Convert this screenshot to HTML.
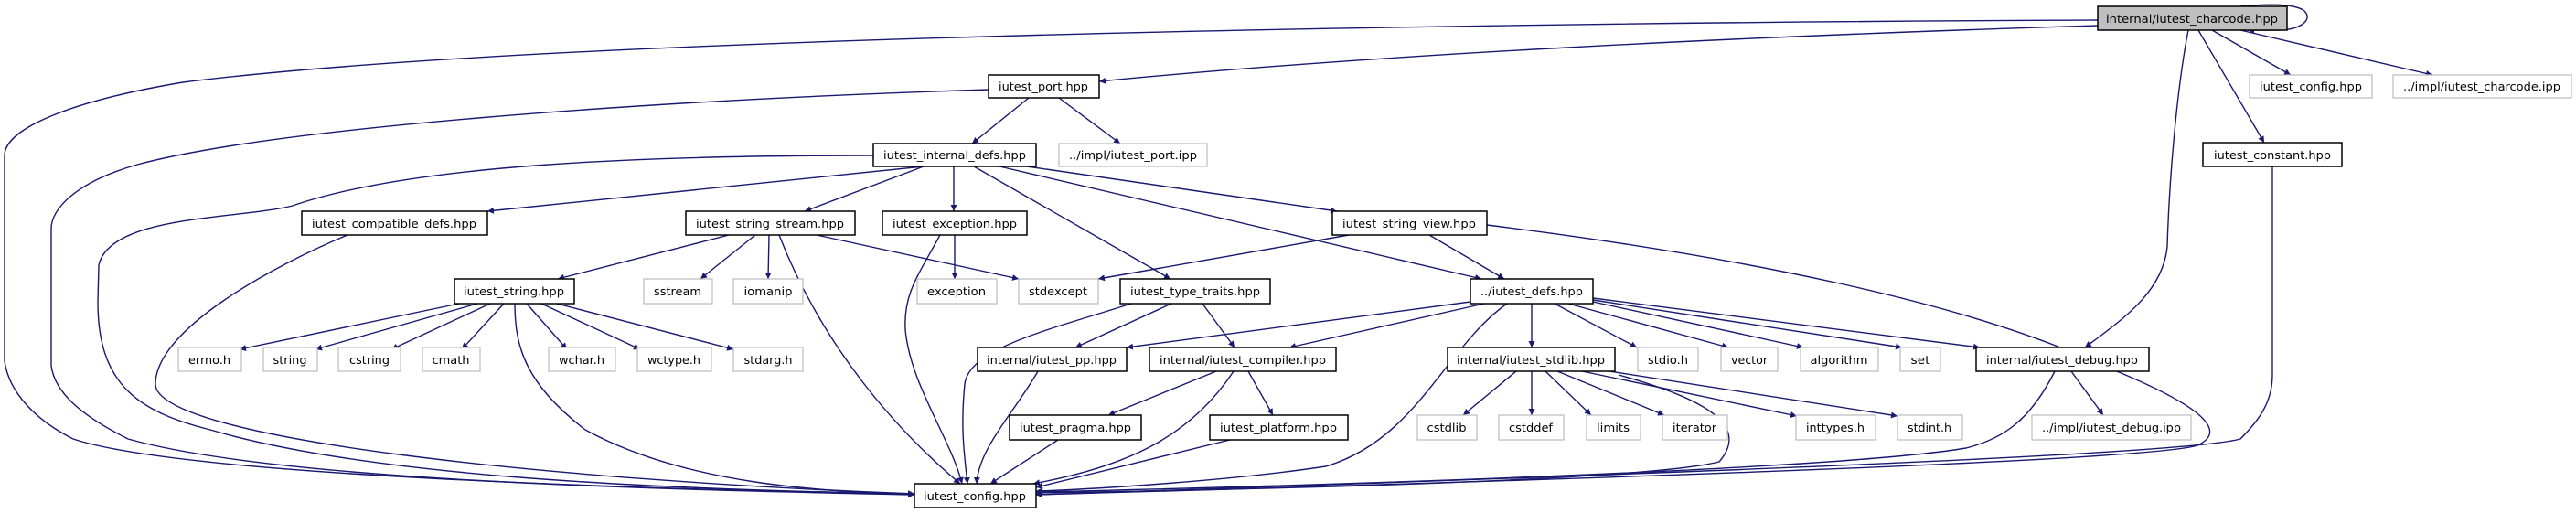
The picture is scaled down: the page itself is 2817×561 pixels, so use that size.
<!DOCTYPE html>
<html><head><meta charset="utf-8"><style>
html,body{margin:0;padding:0;background:#fff;}
svg{display:block;}
text{font-family:"DejaVu Sans","Liberation Sans",sans-serif;font-size:12px;fill:#000;}
.e{fill:none;stroke:#191970;stroke-width:1.4;}
.n{fill:#fff;stroke:#000;stroke-width:1.5;}
.g{fill:#fff;stroke:#c0c0c0;stroke-width:1.3;}
</style></head><body>
<svg width="2817" height="561" viewBox="0 0 2817 561" xmlns="http://www.w3.org/2000/svg">
<defs><marker id="a" viewBox="0 0 10 10" refX="10" refY="5" markerWidth="7" markerHeight="7" orient="auto" markerUnits="userSpaceOnUse"><path d="M0,0 L10,5 L0,10 z" fill="#191970"/></marker></defs>
<g marker-end="url(#a)">
<path class="e" d="M2419,33 L2505,82"/>
<path class="e" d="M2450,33 L2660,82"/>
<path class="e" d="M2404,33 L2476,156"/>
<path class="e" d="M2393,33 C2380,100 2372,200 2370,270 C2365,320 2320,350 2280,380"/>
<path class="e" d="M2294,28 C1900,40 1500,60 1202,89"/>
<path class="e" d="M2294,22 C1600,25 600,40 200,90 C80,110 5,140 5,170 L5,395 C10,430 40,460 80,480 C200,520 700,535 1000,540"/>
<path class="e" d="M2450,7 C2480,4 2510,4 2520,12 C2530,22 2515,33 2490,33 L2458,33"/>
<path class="e" d="M1125,107 L1063,157"/>
<path class="e" d="M1158,107 L1225,157"/>
<path class="e" d="M1081,98 C700,110 300,140 150,180 C80,200 56,230 56,250 L56,400 C60,430 90,455 140,480 C300,525 700,535 1000,541"/>
<path class="e" d="M2485,182 L2485,410 C2485,440 2470,460 2450,480 C2380,500 1600,525 1133,541"/>
<path class="e" d="M1010,182 L533,231"/>
<path class="e" d="M955,170 C700,170 450,180 320,225 C260,240 120,235 108,290 L107,330 C107,420 150,450 230,470 C400,520 700,535 1000,540"/>
<path class="e" d="M1010,182 L880,231"/>
<path class="e" d="M1043,182 L1043,231"/>
<path class="e" d="M1065,182 L1280,305"/>
<path class="e" d="M1093,182 L1620,305"/>
<path class="e" d="M1123,182 L1462,231"/>
<path class="e" d="M380,257 C300,290 170,360 170,420 C170,480 600,525 1000,540"/>
<path class="e" d="M797,257 L610,305"/>
<path class="e" d="M826,257 L766,305"/>
<path class="e" d="M841,257 L840,305"/>
<path class="e" d="M893,257 L1114,305"/>
<path class="e" d="M852,257 C900,380 980,470 1050,529"/>
<path class="e" d="M1044,257 L1044,305"/>
<path class="e" d="M1028,257 C1005,300 988,320 990,360 C995,420 1040,480 1052,529"/>
<path class="e" d="M1475,257 L1201,305"/>
<path class="e" d="M1563,257 L1645,305"/>
<path class="e" d="M1626,246 C1900,280 2150,330 2300,400 C2400,440 2440,470 2403,487 C2350,505 1600,528 1133,541"/>
<path class="e" d="M502,332 L262,382"/>
<path class="e" d="M522,332 L345,382"/>
<path class="e" d="M536,332 L428,382"/>
<path class="e" d="M551,332 L505,382"/>
<path class="e" d="M576,332 L620,382"/>
<path class="e" d="M592,332 L700,382"/>
<path class="e" d="M609,332 L802,382"/>
<path class="e" d="M563,332 C563,380 575,420 640,470 C750,530 900,538 1000,540"/>
<path class="e" d="M1281,332 L1176,380"/>
<path class="e" d="M1315,332 L1350,380"/>
<path class="e" d="M1237,332 C1150,360 1060,380 1055,420 C1050,470 1055,500 1058,529"/>
<path class="e" d="M1608,330 L1232,380"/>
<path class="e" d="M1623,332 L1410,380"/>
<path class="e" d="M1675,332 L1675,380"/>
<path class="e" d="M1700,332 L1790,380"/>
<path class="e" d="M1715,332 L1890,380"/>
<path class="e" d="M1742,330 L1972,380"/>
<path class="e" d="M1742,328 L2080,380"/>
<path class="e" d="M1742,326 L2165,380"/>
<path class="e" d="M1648,332 C1580,380 1550,480 1450,510 C1350,525 1200,535 1133,537"/>
<path class="e" d="M1135,406 C1110,450 1070,490 1068,529"/>
<path class="e" d="M1330,406 L1212,454"/>
<path class="e" d="M1349,406 C1300,480 1230,510 1130,529"/>
<path class="e" d="M1365,406 L1392,454"/>
<path class="e" d="M1157,481 L1083,529"/>
<path class="e" d="M1345,481 L1133,533"/>
<path class="e" d="M1658,406 L1600,454"/>
<path class="e" d="M1675,406 L1675,454"/>
<path class="e" d="M1690,406 L1740,454"/>
<path class="e" d="M1703,406 L1820,454"/>
<path class="e" d="M1730,406 L1965,455"/>
<path class="e" d="M1760,406 L2075,455"/>
<path class="e" d="M1770,410 C1880,440 1910,470 1880,505 C1800,525 1400,535 1133,539"/>
<path class="e" d="M2265,406 L2300,454"/>
<path class="e" d="M2247,406 C2220,460 2190,480 2150,490 C2000,515 1400,532 1133,538"/>
</g>
<g>
<rect x="2294" y="7" width="207" height="26" fill="#bfbfbf" stroke="#000" stroke-width="1.5"/>
<text x="2397" y="25" text-anchor="middle" textLength="188" lengthAdjust="spacingAndGlyphs">internal/iutest_charcode.hpp</text>
<rect class="g" x="2460" y="82" width="134" height="25"/><text x="2527" y="99" text-anchor="middle" textLength="112" lengthAdjust="spacingAndGlyphs">iutest_config.hpp</text>
<rect class="g" x="2617" y="82" width="195" height="25"/><text x="2714" y="99" text-anchor="middle" textLength="172" lengthAdjust="spacingAndGlyphs">../impl/iutest_charcode.ipp</text>
<rect class="n" x="2409" y="156" width="152" height="26"/><text x="2485" y="174" text-anchor="middle" textLength="128" lengthAdjust="spacingAndGlyphs">iutest_constant.hpp</text>
<rect class="n" x="1081" y="82" width="121" height="25"/><text x="1141" y="99" text-anchor="middle" textLength="98" lengthAdjust="spacingAndGlyphs">iutest_port.hpp</text>
<rect class="n" x="955" y="157" width="178" height="25"/><text x="1044" y="174" text-anchor="middle" textLength="156" lengthAdjust="spacingAndGlyphs">iutest_internal_defs.hpp</text>
<rect class="g" x="1158" y="157" width="162" height="25"/><text x="1239" y="174" text-anchor="middle" textLength="140" lengthAdjust="spacingAndGlyphs">../impl/iutest_port.ipp</text>
<rect class="n" x="330" y="231" width="203" height="26"/><text x="431" y="249" text-anchor="middle" textLength="180" lengthAdjust="spacingAndGlyphs">iutest_compatible_defs.hpp</text>
<rect class="n" x="750" y="231" width="185" height="26"/><text x="842" y="249" text-anchor="middle" textLength="162" lengthAdjust="spacingAndGlyphs">iutest_string_stream.hpp</text>
<rect class="n" x="965" y="231" width="158" height="26"/><text x="1044" y="249" text-anchor="middle" textLength="136" lengthAdjust="spacingAndGlyphs">iutest_exception.hpp</text>
<rect class="n" x="1457" y="231" width="169" height="26"/><text x="1541" y="249" text-anchor="middle" textLength="146" lengthAdjust="spacingAndGlyphs">iutest_string_view.hpp</text>
<rect class="n" x="497" y="305" width="131" height="27"/><text x="562" y="323" text-anchor="middle" textLength="110" lengthAdjust="spacingAndGlyphs">iutest_string.hpp</text>
<rect class="g" x="704" y="305" width="75" height="27"/><text x="741" y="323" text-anchor="middle" textLength="52" lengthAdjust="spacingAndGlyphs">sstream</text>
<rect class="g" x="802" y="305" width="76" height="27"/><text x="840" y="323" text-anchor="middle" textLength="53" lengthAdjust="spacingAndGlyphs">iomanip</text>
<rect class="g" x="1003" y="305" width="87" height="27"/><text x="1046" y="323" text-anchor="middle" textLength="64" lengthAdjust="spacingAndGlyphs">exception</text>
<rect class="g" x="1114" y="305" width="87" height="27"/><text x="1157" y="323" text-anchor="middle" textLength="64" lengthAdjust="spacingAndGlyphs">stdexcept</text>
<rect class="n" x="1225" y="305" width="164" height="27"/><text x="1307" y="323" text-anchor="middle" textLength="142" lengthAdjust="spacingAndGlyphs">iutest_type_traits.hpp</text>
<rect class="n" x="1608" y="305" width="134" height="27"/><text x="1675" y="323" text-anchor="middle" textLength="112" lengthAdjust="spacingAndGlyphs">../iutest_defs.hpp</text>
<rect class="g" x="195" y="380" width="69" height="26"/><text x="229" y="398" text-anchor="middle" textLength="46" lengthAdjust="spacingAndGlyphs">errno.h</text>
<rect class="g" x="288" y="380" width="59" height="26"/><text x="317" y="398" text-anchor="middle" textLength="37" lengthAdjust="spacingAndGlyphs">string</text>
<rect class="g" x="370" y="380" width="68" height="26"/><text x="404" y="398" text-anchor="middle" textLength="44" lengthAdjust="spacingAndGlyphs">cstring</text>
<rect class="g" x="462" y="380" width="63" height="26"/><text x="493" y="398" text-anchor="middle" textLength="41" lengthAdjust="spacingAndGlyphs">cmath</text>
<rect class="g" x="600" y="380" width="73" height="26"/><text x="636" y="398" text-anchor="middle" textLength="50" lengthAdjust="spacingAndGlyphs">wchar.h</text>
<rect class="g" x="697" y="380" width="81" height="26"/><text x="737" y="398" text-anchor="middle" textLength="58" lengthAdjust="spacingAndGlyphs">wctype.h</text>
<rect class="g" x="802" y="380" width="76" height="26"/><text x="840" y="398" text-anchor="middle" textLength="53" lengthAdjust="spacingAndGlyphs">stdarg.h</text>
<rect class="n" x="1069" y="380" width="163" height="26"/><text x="1150" y="398" text-anchor="middle" textLength="142" lengthAdjust="spacingAndGlyphs">internal/iutest_pp.hpp</text>
<rect class="n" x="1257" y="380" width="204" height="26"/><text x="1359" y="398" text-anchor="middle" textLength="182" lengthAdjust="spacingAndGlyphs">internal/iutest_compiler.hpp</text>
<rect class="n" x="1583" y="380" width="183" height="26"/><text x="1674" y="398" text-anchor="middle" textLength="162" lengthAdjust="spacingAndGlyphs">internal/iutest_stdlib.hpp</text>
<rect class="g" x="1791" y="380" width="66" height="26"/><text x="1824" y="398" text-anchor="middle" textLength="44" lengthAdjust="spacingAndGlyphs">stdio.h</text>
<rect class="g" x="1882" y="380" width="62" height="26"/><text x="1913" y="398" text-anchor="middle" textLength="40" lengthAdjust="spacingAndGlyphs">vector</text>
<rect class="g" x="1969" y="380" width="85" height="26"/><text x="2011" y="398" text-anchor="middle" textLength="63" lengthAdjust="spacingAndGlyphs">algorithm</text>
<rect class="g" x="2078" y="380" width="44" height="26"/><text x="2100" y="398" text-anchor="middle" textLength="21" lengthAdjust="spacingAndGlyphs">set</text>
<rect class="n" x="2161" y="380" width="189" height="26"/><text x="2255" y="398" text-anchor="middle" textLength="166" lengthAdjust="spacingAndGlyphs">internal/iutest_debug.hpp</text>
<rect class="n" x="1104" y="454" width="144" height="27"/><text x="1176" y="472" text-anchor="middle" textLength="122" lengthAdjust="spacingAndGlyphs">iutest_pragma.hpp</text>
<rect class="n" x="1323" y="454" width="151" height="27"/><text x="1398" y="472" text-anchor="middle" textLength="128" lengthAdjust="spacingAndGlyphs">iutest_platform.hpp</text>
<rect class="g" x="1550" y="454" width="65" height="27"/><text x="1582" y="472" text-anchor="middle" textLength="43" lengthAdjust="spacingAndGlyphs">cstdlib</text>
<rect class="g" x="1639" y="454" width="71" height="27"/><text x="1674" y="472" text-anchor="middle" textLength="48" lengthAdjust="spacingAndGlyphs">cstddef</text>
<rect class="g" x="1735" y="454" width="59" height="27"/><text x="1764" y="472" text-anchor="middle" textLength="36" lengthAdjust="spacingAndGlyphs">limits</text>
<rect class="g" x="1818" y="454" width="71" height="27"/><text x="1853" y="472" text-anchor="middle" textLength="48" lengthAdjust="spacingAndGlyphs">iterator</text>
<rect class="g" x="1964" y="454" width="87" height="27"/><text x="2007" y="472" text-anchor="middle" textLength="64" lengthAdjust="spacingAndGlyphs">inttypes.h</text>
<rect class="g" x="2075" y="454" width="71" height="27"/><text x="2110" y="472" text-anchor="middle" textLength="48" lengthAdjust="spacingAndGlyphs">stdint.h</text>
<rect class="g" x="2222" y="454" width="174" height="27"/><text x="2309" y="472" text-anchor="middle" textLength="152" lengthAdjust="spacingAndGlyphs">../impl/iutest_debug.ipp</text>
<rect class="n" x="1000" y="529" width="133" height="26"/><text x="1066" y="547" text-anchor="middle" textLength="112" lengthAdjust="spacingAndGlyphs">iutest_config.hpp</text>
</g>
</svg>
</body></html>
